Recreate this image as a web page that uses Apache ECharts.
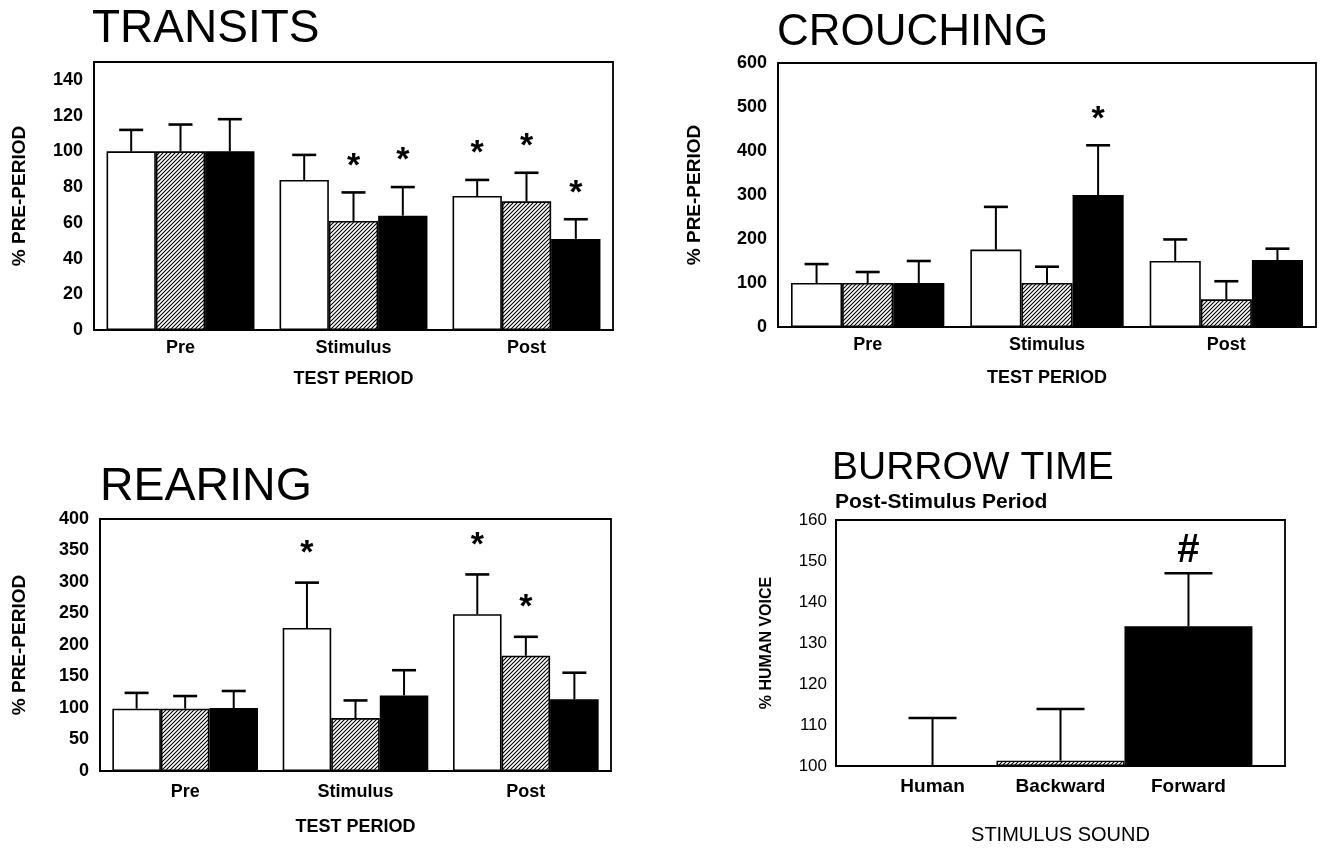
<!DOCTYPE html>
<html><head><meta charset="utf-8">
<script src="https://cdn.jsdelivr.net/npm/echarts@6/dist/echarts.min.js"></script>
<style>html,body{margin:0;padding:0;background:#fff}#c{width:1320px;height:848px}</style>
</head><body><div id="c"></div><script>
// ---- data ----
const categories = ['Pre', 'Stimulus', 'Post'];
const groupNames = ['Human', 'Backward', 'Forward'];
// rows = groups (white, hatched, black); columns = categories
const transitsMean = [[100, 84, 75], [100, 61, 72], [100, 64, 51]];
const transitsErr  = [[112, 98, 84], [115, 77, 88], [118, 80, 62]];
const transitsSig  = [[0, 0, 1], [0, 1, 1], [0, 1, 1]];
const crouchMean = [[100, 176, 150], [100, 100, 63], [100, 300, 152]];
const crouchErr  = [[143, 273, 199], [125, 137, 104], [150, 413, 178]];
const crouchSig  = [[0, 0, 0], [0, 0, 0], [0, 1, 0]];
const rearMean = [[99, 227, 249], [99, 84, 183], [100, 120, 114]];
const rearErr  = [[124, 299, 312], [119, 112, 213], [127, 160, 156]];
const rearSig  = [[0, 1, 1], [0, 0, 1], [0, 0, 0]];
const burrowCats = ['Human', 'Backward', 'Forward'];
const burrowMean = [100, 101.3, 134.1];
const burrowErr  = [111.7, 113.9, 147];
const burrowSig  = [0, 0, 1];

// ---- styles ----
const SANS = '"Liberation Sans",Arial,Helvetica,sans-serif';
function hatch() {
  const s = 4, c = document.createElement('canvas');
  c.width = s; c.height = s;
  const g = c.getContext('2d');
  g.fillStyle = '#fff'; g.fillRect(0, 0, s, s);
  g.strokeStyle = '#000'; g.lineWidth = 1.1;
  g.beginPath();
  g.moveTo(0, s); g.lineTo(s, 0);
  g.moveTo(-1, 1); g.lineTo(1, -1);
  g.moveTo(s - 1, s + 1); g.lineTo(s + 1, s - 1);
  g.stroke();
  return c;
}
const fills = ['#ffffff', { image: hatch(), repeat: 'repeat' }, '#000000'];
const GAP = 0.145;

const grids = [
  { left: 94, top: 62, width: 519, height: 268 },
  { left: 778, top: 63, width: 538, height: 264 },
  { left: 100, top: 519, width: 511, height: 252 },
  { left: 836, top: 520, width: 449, height: 246 }
];
grids.forEach(g => { g.show = true; g.borderColor = '#000'; g.borderWidth = 1.8; g.backgroundColor = 'transparent'; });

function xAx(i, cats, name, gap, labelMargin, showLabels, nameStyle) {
  return {
    type: 'category', gridIndex: i, data: cats,
    axisLine: { lineStyle: { color: '#000', width: 1.8 } }, axisTick: { show: false },
    axisLabel: { show: showLabels, color: '#000', fontFamily: SANS, fontWeight: 'bold', fontSize: 18, margin: labelMargin },
    name: name, nameLocation: 'middle', nameGap: gap,
    nameTextStyle: Object.assign({ color: '#000', fontFamily: SANS }, nameStyle)
  };
}
function yAx(i, min, max, interval, name, gap, labelFont, nameStyle) {
  return {
    type: 'value', gridIndex: i, min: min, max: max, interval: interval, startValue: min,
    axisLine: { show: true, lineStyle: { color: '#000', width: 1.8 } }, axisTick: { show: false },
    splitLine: { show: false },
    axisLabel: Object.assign({ color: '#000', showMaxLabel: (max - min) % interval === 0 }, labelFont),
    name: name, nameLocation: 'middle', nameGap: gap,
    nameTextStyle: Object.assign({ color: '#000', fontFamily: SANS }, nameStyle)
  };
}

function barSeries(p, means) {
  return means.map((row, s) => ({
    type: 'bar', name: groupNames[s], xAxisIndex: p, yAxisIndex: p, data: row,
    barGap: 0, barCategoryGap: (GAP * 100) + '%', clip: true,
    itemStyle: { color: fills[s], borderColor: '#000', borderWidth: 1.6 },
    z: 2
  }));
}

function errSeries(p, means, errs, sigs, capW, sym, symFont, symOffset) {
  const data = [];
  means.forEach((row, s) => row.forEach((m, c) => data.push([c, m, errs[s][c], s, sigs[s][c]])));
  const n = means.length;
  return {
    type: 'custom', xAxisIndex: p, yAxisIndex: p, data: data, z: 5, clip: false,
    encode: { x: 0, y: [1, 2] },
    renderItem: function (params, api) {
      const c = api.value(0), m = api.value(1), e = api.value(2), s = api.value(3), sig = api.value(4);
      const band = api.size([1, 0])[0];
      const bw = band * (1 - GAP) / n;
      const off = (s - (n - 1) / 2) * bw;
      const pm = api.coord([c, m]), pe = api.coord([c, e]);
      const x = pm[0] + off;
      const ch = [
        { type: 'line', shape: { x1: x, y1: pm[1], x2: x, y2: pe[1] }, style: { stroke: '#000', lineWidth: 2 } },
        { type: 'line', shape: { x1: x - capW / 2, y1: pe[1], x2: x + capW / 2, y2: pe[1] }, style: { stroke: '#000', lineWidth: 2.6 } }
      ];
      if (sig) ch.push({ type: 'text', style: { text: sym, x: x, y: pe[1] - symOffset, font: symFont, fill: '#000', align: 'center', verticalAlign: 'middle' } });
      return { type: 'group', children: ch };
    }
  };
}

const boldTick = { fontFamily: SANS, fontWeight: 'bold', fontSize: 18, margin: 11 };
const plainTick = { fontFamily: SANS, fontWeight: 'normal', fontSize: 17, margin: 9 };
const boldName = { fontWeight: 'bold', fontSize: 18 };
const yName = { fontWeight: 'bold', fontSize: 19 };
const starFont = 'bold 34px ' + SANS;

const series = [].concat(
  barSeries(0, transitsMean), [errSeries(0, transitsMean, transitsErr, transitsSig, 24, '*', starFont, 26)],
  barSeries(1, crouchMean), [errSeries(1, crouchMean, crouchErr, crouchSig, 24, '*', starFont, 26)],
  barSeries(2, rearMean), [errSeries(2, rearMean, rearErr, rearSig, 24, '*', starFont, 29)]
);
// burrow: three adjacent bars in a single group, labelled under each bar
burrowMean.forEach((v, s) => series.push({
  type: 'bar', name: burrowCats[s], xAxisIndex: 3, yAxisIndex: 3, data: [v],
  barGap: 0, barCategoryGap: (GAP * 100) + '%', clip: true,
  itemStyle: { color: fills[s], borderColor: s === 0 ? 'transparent' : '#000', borderWidth: 1.4 },
  label: { show: true, position: 'bottom', distance: 11, formatter: burrowCats[s], color: '#000', fontFamily: SANS, fontWeight: 'bold', fontSize: 19 },
  z: 2
}));
series.push(errSeries(3, burrowMean.map(v => [v]), burrowErr.map(v => [v]), burrowSig.map(v => [v]), 48, '#', 'bold 40px ' + SANS, 22));

const tStyle = (size, weight) => ({ color: '#000', fontFamily: SANS, fontWeight: weight || 'normal', fontSize: size });
const option = {
  backgroundColor: '#fff',
  animation: false,
  title: [
    { text: 'TRANSITS', left: 92, top: 6, padding: 0, textStyle: tStyle(46) },
    { text: 'CROUCHING', left: 777, top: 11, padding: 0, textStyle: tStyle(44) },
    { text: 'REARING', left: 100, top: 464, padding: 0, textStyle: tStyle(46.5) },
    { text: 'BURROW TIME', left: 832, top: 449, padding: 0, textStyle: tStyle(39) },
    { text: 'Post-Stimulus Period', left: 835, top: 492, padding: 0, textStyle: tStyle(21, 'bold') }
  ],
  grid: grids,
  xAxis: [
    xAx(0, categories, 'TEST PERIOD', 40, 9, true, boldName),
    xAx(1, categories, 'TEST PERIOD', 42, 9, true, boldName),
    xAx(2, categories, 'TEST PERIOD', 47, 12, true, boldName),
    xAx(3, [''], 'STIMULUS SOUND', 59, 9, false, { fontWeight: 'normal', fontSize: 20 })
  ],
  yAxis: [
    yAx(0, 0, 150, 20, '% PRE-PERIOD', 65, boldTick, yName),
    yAx(1, 0, 600, 100, '% PRE-PERIOD', 74, boldTick, yName),
    yAx(2, 0, 400, 50, '% PRE-PERIOD', 71, boldTick, yName),
    yAx(3, 100, 160, 10, '% HUMAN VOICE', 61, plainTick, { fontWeight: 'bold', fontSize: 16 })
  ],
  series: series
};
const chart = echarts.init(document.getElementById('c'), null, { renderer: 'canvas' });
chart.setOption(option);
</script></body></html>
